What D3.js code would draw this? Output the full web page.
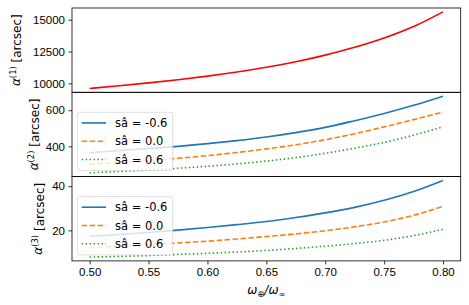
<!DOCTYPE html>
<html>
<head>
<meta charset="utf-8">
<script src="https://cdn.jsdelivr.net/npm/d3@7"></script>
<style>
  html, body { margin: 0; padding: 0; background: #fff; }
  svg { display: block; font-family: "DejaVu Sans", sans-serif; }
</style>
</head>
<body>
<div id="chart"></div>
<script>
// x values: omega ratio
const omegaRatio = [0.500, 0.525, 0.550, 0.575, 0.600, 0.625, 0.650, 0.675, 0.700, 0.725, 0.750, 0.775, 0.800];

// first order (single curve)
const alpha1 = [9600, 9810, 10040, 10290, 10570, 10890, 11260, 11700, 12220, 12830, 13560, 14460, 15620];

// second order, per shear value
const alpha2Neg = [365, 377, 388, 400, 415, 432, 452, 476, 505, 542, 582, 627, 678];
const alpha2Zero = [302, 311, 321, 334, 349, 366, 386, 409, 437, 470, 508, 548, 590];
const alpha2Pos = [254, 261, 269, 279, 290, 303, 319, 338, 362, 390, 422, 462, 508];

// third order, per shear value
const alpha3Neg = [17.3, 18.1, 19.0, 20.1, 21.3, 22.6, 24.0, 25.8, 27.9, 30.4, 33.6, 37.6, 42.6];
const alpha3Zero = [12.2, 12.8, 13.5, 14.3, 15.1, 16.1, 17.2, 18.4, 19.8, 21.6, 23.8, 26.8, 30.9];
const alpha3Pos = [7.9, 8.2, 8.6, 9.1, 9.6, 10.2, 10.9, 11.8, 12.8, 14.0, 15.5, 17.6, 20.5];

const seriesLabels = ['sâ = -0.6', 'sâ = 0.0', 'sâ = 0.6'];
const xTicks = [0.50, 0.55, 0.60, 0.65, 0.70, 0.75, 0.80];
const yTicks1 = [10000, 12500, 15000];
const yTicks2 = [400, 600];
const yTicks3 = [20, 40];

const W = 469;
const H = 305;
const plotLeft = 72;
const plotRight = 460.7;
const plotTop = 8;
const panelH = 84.3;

const styles = [
    { color: '#1f77b4', dash: null },
    { color: '#ff7f0e', dash: '5.55,2.4' },
    { color: '#2ca02c', dash: '1.5,2.47' }
];

const panels = [
    { order: 1, series: [alpha1], ticks: yTicks1, labelX: 15.5, legend: false },
    { order: 2, series: [alpha2Neg, alpha2Zero, alpha2Pos], ticks: yTicks2, labelX: 33.5, legend: true },
    { order: 3, series: [alpha3Neg, alpha3Zero, alpha3Pos], ticks: yTicks3, labelX: 38, legend: true }
];

const svg = d3.select('#chart')
    .append('svg')
    .attr('width', W)
    .attr('height', H);

// shared x scale with matplotlib style 5% margins
const xMin = d3.min(omegaRatio), xMax = d3.max(omegaRatio);
const xPad = (xMax - xMin) * 0.05;
const x = d3.scaleLinear()
    .domain([xMin - xPad, xMax + xPad])
    .range([plotLeft, plotRight]);

panels.forEach((p, i) => {
    const y0 = plotTop + i * panelH;
    const y1 = y0 + panelH;

    const all = p.series.flat();
    const lo = d3.min(all), hi = d3.max(all);
    const pad = (hi - lo) * 0.05;
    const y = d3.scaleLinear()
        .domain([lo - pad, hi + pad])
        .range([y1, y0]);

    const g = svg.append('g');

    // lines
    p.series.forEach((vals, k) => {
        const st = p.order === 1 ? { color: '#ff0000', dash: null } : styles[k];
        const line = d3.line()
            .x((d, j) => x(omegaRatio[j]))
            .y(d => y(d))
            .curve(d3.curveMonotoneX);
        g.append('path')
            .datum(vals)
            .attr('d', line)
            .attr('fill', 'none')
            .attr('stroke', st.color)
            .attr('stroke-width', 1.6)
            .attr('stroke-dasharray', st.dash);
    });

    // y axis
    const yAxis = d3.axisLeft(y)
        .tickValues(p.ticks)
        .tickFormat(d3.format('d'))
        .tickSize(3.5)
        .tickPadding(3.5);
    const ya = g.append('g')
        .attr('transform', `translate(${plotLeft},0)`)
        .call(yAxis);
    ya.select('.domain').remove();
    ya.selectAll('line').attr('stroke', '#000').attr('stroke-width', 0.8);
    ya.selectAll('text').attr('fill', '#000').style('font-size', '11.5px');

    // bottom x axis only on last panel
    if (i === panels.length - 1) {
        const xAxis = d3.axisBottom(x)
            .tickValues(xTicks)
            .tickFormat(d3.format('.2f'))
            .tickSize(3.5)
            .tickPadding(3);
        const xa = g.append('g')
            .attr('transform', `translate(0,${y1})`)
            .call(xAxis);
        xa.select('.domain').remove();
        xa.selectAll('line').attr('stroke', '#000').attr('stroke-width', 0.8);
        xa.selectAll('text').attr('fill', '#000').style('font-size', '11.5px');
    }

    // frame
    g.append('rect')
        .attr('x', plotLeft)
        .attr('y', y0)
        .attr('width', plotRight - plotLeft)
        .attr('height', panelH)
        .attr('fill', 'none')
        .attr('stroke', '#000')
        .attr('stroke-width', 0.8);

    // y label
    const cy = (y0 + y1) / 2;
    const lab = g.append('text')
        .attr('transform', `translate(${p.labelX},${cy}) rotate(-90)`)
        .attr('text-anchor', 'middle')
        .attr('dy', '0.35em')
        .style('font-size', '12px')
        .attr('fill', '#000');
    lab.append('tspan').style('font-style', 'italic').text('α');
    lab.append('tspan').attr('dy', '-0.45em').style('font-size', '8.4px').text(`(${p.order})`);
    lab.append('tspan').attr('dy', '0.45em').text(' [arcsec]');

    // legend
    if (p.legend) {
        const bx = plotLeft + 5.3, bw = 95.4, bh = 58.3;
        const by = y1 - 6 - bh;
        const lg = g.append('g');
        lg.append('rect')
            .attr('x', bx).attr('y', by)
            .attr('width', bw).attr('height', bh)
            .attr('rx', 2.5)
            .attr('fill', 'rgba(255,255,255,0.8)')
            .attr('stroke', 'rgba(204,204,204,0.8)')
            .attr('stroke-width', 0.8);
        seriesLabels.forEach((t, k) => {
            const ry = by + 10.6 + k * 18.3;
            lg.append('line')
                .attr('x1', bx + 4.4).attr('x2', bx + 28.7)
                .attr('y1', ry).attr('y2', ry)
                .attr('stroke', styles[k].color)
                .attr('stroke-width', 1.6)
                .attr('stroke-dasharray', styles[k].dash);
            lg.append('text')
                .attr('x', bx + 37.7)
                .attr('y', ry)
                .attr('dy', '0.35em')
                .style('font-size', '11.5px')
                .attr('fill', '#000')
                .text(t);
        });
    }
});

// x label
const xl = svg.append('text')
    .attr('x', (plotLeft + plotRight) / 2)
    .attr('y', 294)
    .attr('text-anchor', 'middle')
    .style('font-size', '12px')
    .attr('fill', '#000');
xl.append('tspan').style('font-style', 'italic').text('ω');
xl.append('tspan').attr('dy', '2.5').style('font-size', '8.4px').text('⊕');
xl.append('tspan').attr('dy', '-2.5').style('font-style', 'italic').text('/ω');
xl.append('tspan').attr('dy', '2.5').style('font-size', '8.4px').text('∞');
</script>
</body>
</html>
